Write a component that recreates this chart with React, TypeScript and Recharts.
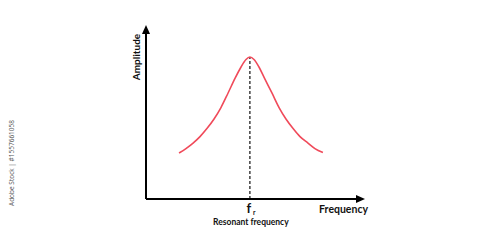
import { LineChart, Line, XAxis, YAxis, ReferenceLine, ReferenceDot, Label } from 'recharts';

// resonance curve (arbitrary units, 0-100 on both axes)
const freq = [15.3, 18.5, 21.8, 25.0, 28.2, 31.5, 34.7, 38.0, 41.2, 44.0, 46.3, 48.1, 50.0, 52.3, 54.9, 58.3, 61.6, 64.8, 68.1, 71.3, 75.0, 78.2, 81.9];
const amplitude = [26.9, 29.5, 32.7, 36.5, 41.2, 46.8, 53.5, 62.0, 70.5, 77.2, 81.6, 83.0, 81.6, 77.2, 70.5, 62.0, 53.5, 46.8, 41.2, 36.5, 32.7, 29.5, 27.2];

const peakFreq = 48.1;
const peakAmp = 83.0;

const xTitle = 'Frequency';
const yTitle = 'Amplitude';
const markMain = 'f';
const markSub = 'r';
const markCaption = 'Resonant frequency';
const credit = 'Adobe Stock | #1557661058';

const data = freq.map((f, i) => ({ f, a: amplitude[i] }));

const FONT = 'Lato, "Open Sans", sans-serif';

const ArrowRight = (p: any) => (
  <polygon points={`${p.cx + 3},${p.cy} ${p.cx - 6},${p.cy - 4} ${p.cx - 6},${p.cy + 4}`} fill="#000" />
);
const ArrowUp = (p: any) => (
  <polygon points={`${p.cx},${p.cy - 3} ${p.cx - 4},${p.cy + 6} ${p.cx + 4},${p.cy + 6}`} fill="#000" />
);

const XTitle = (p: any) => {
  const vb = p.viewBox;
  return (
    <text x={vb.x + vb.width + 6} y={vb.y + 14} textAnchor="end" fontFamily={FONT} fontWeight={700} fontSize={10.5} fill="#111">
      {xTitle}
    </text>
  );
};

const YTitle = (p: any) => {
  const vb = p.viewBox;
  const x = vb.x + vb.width - 6;
  const y = vb.y + 29;
  return (
    <text x={x} y={y} transform={`rotate(-90 ${x} ${y})`} textAnchor="middle" fontFamily={FONT} fontWeight={700} fontSize={10} fill="#111">
      {yTitle}
    </text>
  );
};

const MarkLabel = (p: any) => {
  const vb = p.viewBox;
  const x = vb.x;
  const bottom = vb.y + vb.height;
  return (
    <g fontFamily={FONT} fill="#111">
      <text x={x - 1} y={bottom + 14} textAnchor="middle" fontWeight={700} fontSize={13}>
        {markMain}
      </text>
      <text x={x + 3} y={bottom + 16} textAnchor="start" fontWeight={700} fontSize={6.5}>
        {markSub}
      </text>
      <text x={x + 1} y={bottom + 26} textAnchor="middle" fontWeight={700} fontSize={8.5}>
        {markCaption}
      </text>
    </g>
  );
};

export default function App() {
  return (
    <div style={{ position: 'absolute', left: 0, top: 0, width: 500, height: 252, background: '#fff' }}>
      <LineChart width={500} height={252} data={data} margin={{ top: 28, right: 138, bottom: 52, left: 145 }}>
        <XAxis
          type="number"
          dataKey="f"
          domain={[0, 100]}
          height={1}
          tick={false}
          tickLine={false}
          axisLine={{ stroke: '#000', strokeWidth: 2 }}
        >
          <Label content={<XTitle />} />
        </XAxis>
        <YAxis
          type="number"
          domain={[0, 100]}
          width={1}
          tick={false}
          tickLine={false}
          axisLine={{ stroke: '#000', strokeWidth: 2 }}
        >
          <Label content={<YTitle />} />
        </YAxis>
        <ReferenceLine
          segment={[{ x: peakFreq, y: 0 }, { x: peakFreq, y: peakAmp }]}
          stroke="#222"
          strokeWidth={1.3}
          strokeDasharray="3 2"
          ifOverflow="visible"
        >
          <Label content={<MarkLabel />} />
        </ReferenceLine>
        <Line
          type="monotone"
          dataKey="a"
          stroke="#f04a5a"
          strokeWidth={1.6}
          dot={false}
          activeDot={false}
          isAnimationActive={false}
        />
        <ReferenceDot x={100} y={0} r={0} shape={ArrowRight} ifOverflow="visible" />
        <ReferenceDot x={0} y={100} r={0} shape={ArrowUp} ifOverflow="visible" />
      </LineChart>
      <div
        style={{
          position: 'absolute',
          left: 11,
          top: 163,
          transform: 'translate(-50%, -50%) rotate(-90deg)',
          whiteSpace: 'nowrap',
          fontFamily: '"Open Sans", sans-serif',
          fontSize: 6.5,
          color: '#555',
        }}
      >
        {credit}
      </div>
    </div>
  );
}
